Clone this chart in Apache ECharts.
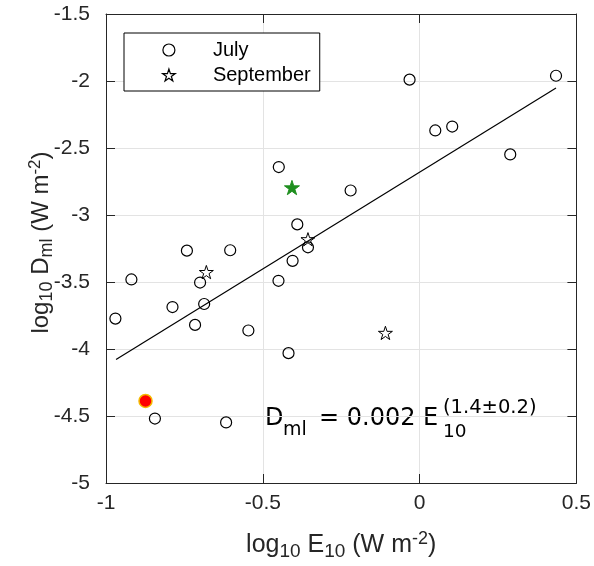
<!DOCTYPE html>
<html>
<head>
<meta charset="utf-8">
<script src="https://cdn.jsdelivr.net/npm/echarts@6/dist/echarts.min.js"></script>
<style>
html,body{margin:0;padding:0;background:#fff;}
#chart{width:594px;height:566px;}
</style>
</head>
<body>
<div id="chart"></div>
<script>
// ---- data ----
var julyX = [-0.970, -0.919, -0.844, -0.788, -0.742, -0.716, -0.700, -0.687, -0.604, -0.617, -0.546, -0.449, -0.450, -0.418, -0.405, -0.390, -0.356, -0.220, -0.032, 0.050, 0.104, 0.289, 0.435];
var julyY = [-3.773, -3.481, -4.519, -3.687, -3.266, -3.820, -3.504, -3.664, -3.263, -4.548, -3.862, -2.642, -3.491, -4.031, -3.342, -3.070, -3.241, -2.817, -1.990, -2.369, -2.340, -2.548, -1.961];
var septX = [-0.680, -0.356, -0.109];
var septY = [-3.426, -3.181, -3.880];
var greenX = [-0.407];
var greenY = [-2.795];
var redX = [-0.874];
var redY = [-4.388];
var fitX = [-0.968, 0.435];
var fitY = [-4.078, -2.052];
var xTicks = [-1, -0.5, 0, 0.5];
var yTicks = [-5, -4.5, -4, -3.5, -3, -2.5, -2, -1.5];

function pairs(xs, ys) { return xs.map(function (x, i) { return [x, ys[i]]; }); }

var STAR = 'path://M50 0 L61.23 34.55 L97.55 34.55 L68.17 55.9 L79.39 90.45 L50 69.1 L20.61 90.45 L31.83 55.9 L2.45 34.55 L38.77 34.55 Z';
var FONT = 'Liberation Sans, Arial, Helvetica, sans-serif';
var EQF = 'DejaVu Sans, sans-serif';

var chart = echarts.init(document.getElementById('chart'), null, {renderer: 'canvas'});

var axisBase = {
  type: 'value',
  axisLine: {show: true, onZero: false, lineStyle: {color: '#262626', width: 1}},
  axisTick: {show: true, inside: true, length: 9, lineStyle: {color: '#262626', width: 1}},
  splitLine: {show: false},
  interval: 0.5
};

function nameRich(main, sub) {
  return {
    n: {fontFamily: FONT, fontSize: main, color: '#262626', lineHeight: main + 4},
    s: {fontFamily: FONT, fontSize: sub, color: '#262626', padding: [12, 0, 0, 0]},
    p: {fontFamily: FONT, fontSize: sub - 1, color: '#262626', padding: [0, 0, 12, 0]}
  };
}

var option = {
  backgroundColor: '#ffffff',
  animation: false,
  grid: {left: 106, right: 16, top: 14, bottom: 81, containLabel: false},
  xAxis: [
    Object.assign({}, axisBase, {
      min: xTicks[0], max: xTicks[xTicks.length - 1], position: 'bottom',
      axisLabel: {show: true, color: '#262626', fontFamily: FONT, fontSize: 21, margin: 10,
        formatter: function (v) { return String(v); }},
      splitLine: {show: true, lineStyle: {color: '#e3e3e3', width: 1}},
      name: '{n|log}{s|10}{n| E}{s|10}{n| (W m}{p|-2}{n|)}',
      nameLocation: 'middle', nameGap: 47,
      nameTextStyle: {rich: nameRich(25, 19)}
    }),
    Object.assign({}, axisBase, {
      min: xTicks[0], max: xTicks[xTicks.length - 1], position: 'top',
      axisLabel: {show: false}
    })
  ],
  yAxis: [
    Object.assign({}, axisBase, {
      min: yTicks[0], max: yTicks[yTicks.length - 1], position: 'left',
      axisLabel: {show: true, color: '#262626', fontFamily: FONT, fontSize: 21, margin: 16,
        formatter: function (v) { return String(v); }},
      splitLine: {show: true, lineStyle: {color: '#e3e3e3', width: 1}},
      name: '{n|log}{s|10}{n| D}{s|ml}{n| (W m}{p|-2}{n|)}',
      nameLocation: 'middle', nameGap: 50, nameRotate: 90, nameMoveOverlap: false,
      nameTextStyle: {padding: [0, 0, 0, 12], rich: nameRich(24, 18)}
    }),
    Object.assign({}, axisBase, {
      min: yTicks[0], max: yTicks[yTicks.length - 1], position: 'right',
      axisLabel: {show: false}
    })
  ],
  legend: {
    show: true,
    orient: 'vertical',
    left: 124, top: 33,
    padding: [7, 9, 6, 38],
    itemGap: 5,
    itemWidth: 78, itemHeight: 12,
    backgroundColor: '#ffffff',
    borderColor: '#000000', borderWidth: 1, borderRadius: 0,
    textStyle: {fontFamily: FONT, fontSize: 20, color: '#000', lineHeight: 20},
    data: [
      {name: 'July', icon: 'circle', itemStyle: {color: '#ffffff', borderColor: '#000', borderWidth: 1.2}},
      {name: 'September', icon: STAR, itemStyle: {color: '#ffffff', borderColor: '#000', borderWidth: 1.2}}
    ]
  },
  series: [
    {
      name: 'fit', type: 'line', data: pairs(fitX, fitY), symbol: 'none',
      lineStyle: {color: '#000', width: 1.2}, z: 2, silent: true
    },
    {
      name: 'July', type: 'scatter', data: pairs(julyX, julyY),
      symbol: 'circle', symbolSize: 11,
      itemStyle: {color: 'rgba(255,255,255,0)', borderColor: '#000', borderWidth: 1.2, opacity: 1},
      z: 3
    },
    {
      name: 'September', type: 'scatter', data: pairs(septX, septY),
      symbol: STAR, symbolSize: 14, symbolKeepAspect: true,
      itemStyle: {color: 'rgba(255,255,255,0)', borderColor: '#000', borderWidth: 1, opacity: 1},
      z: 4
    },
    {
      name: 'Sept-highlight', type: 'scatter', data: pairs(greenX, greenY),
      symbol: STAR, symbolSize: 15, symbolKeepAspect: true,
      itemStyle: {color: '#1f8f1f', borderColor: '#1f8f1f', borderWidth: 1, opacity: 1},
      z: 4
    },
    {
      name: 'highlight', type: 'scatter', data: pairs(redX, redY),
      symbol: 'circle', symbolSize: 13,
      itemStyle: {color: '#ff0000', borderColor: '#f5b800', borderWidth: 1.5, opacity: 1},
      z: 4
    }
  ],
  graphic: [
    {type: 'text', left: 265, top: 407, style: {text: 'D', font: '24px ' + EQF, fill: '#000'}},
    {type: 'text', left: 283, top: 421, style: {text: 'ml', font: '19px ' + EQF, fill: '#000'}},
    {type: 'text', left: 319, top: 407, style: {text: '= 0.002 E', font: '24px ' + EQF, fill: '#000'}},
    {type: 'text', left: 443, top: 398, style: {text: '(1.4\u00b10.2)', font: '19.5px ' + EQF, fill: '#000'}},
    {type: 'text', left: 443, top: 423, style: {text: '10', font: '18.5px ' + EQF, fill: '#000'}}
  ]
};

chart.setOption(option);
</script>
</body>
</html>
